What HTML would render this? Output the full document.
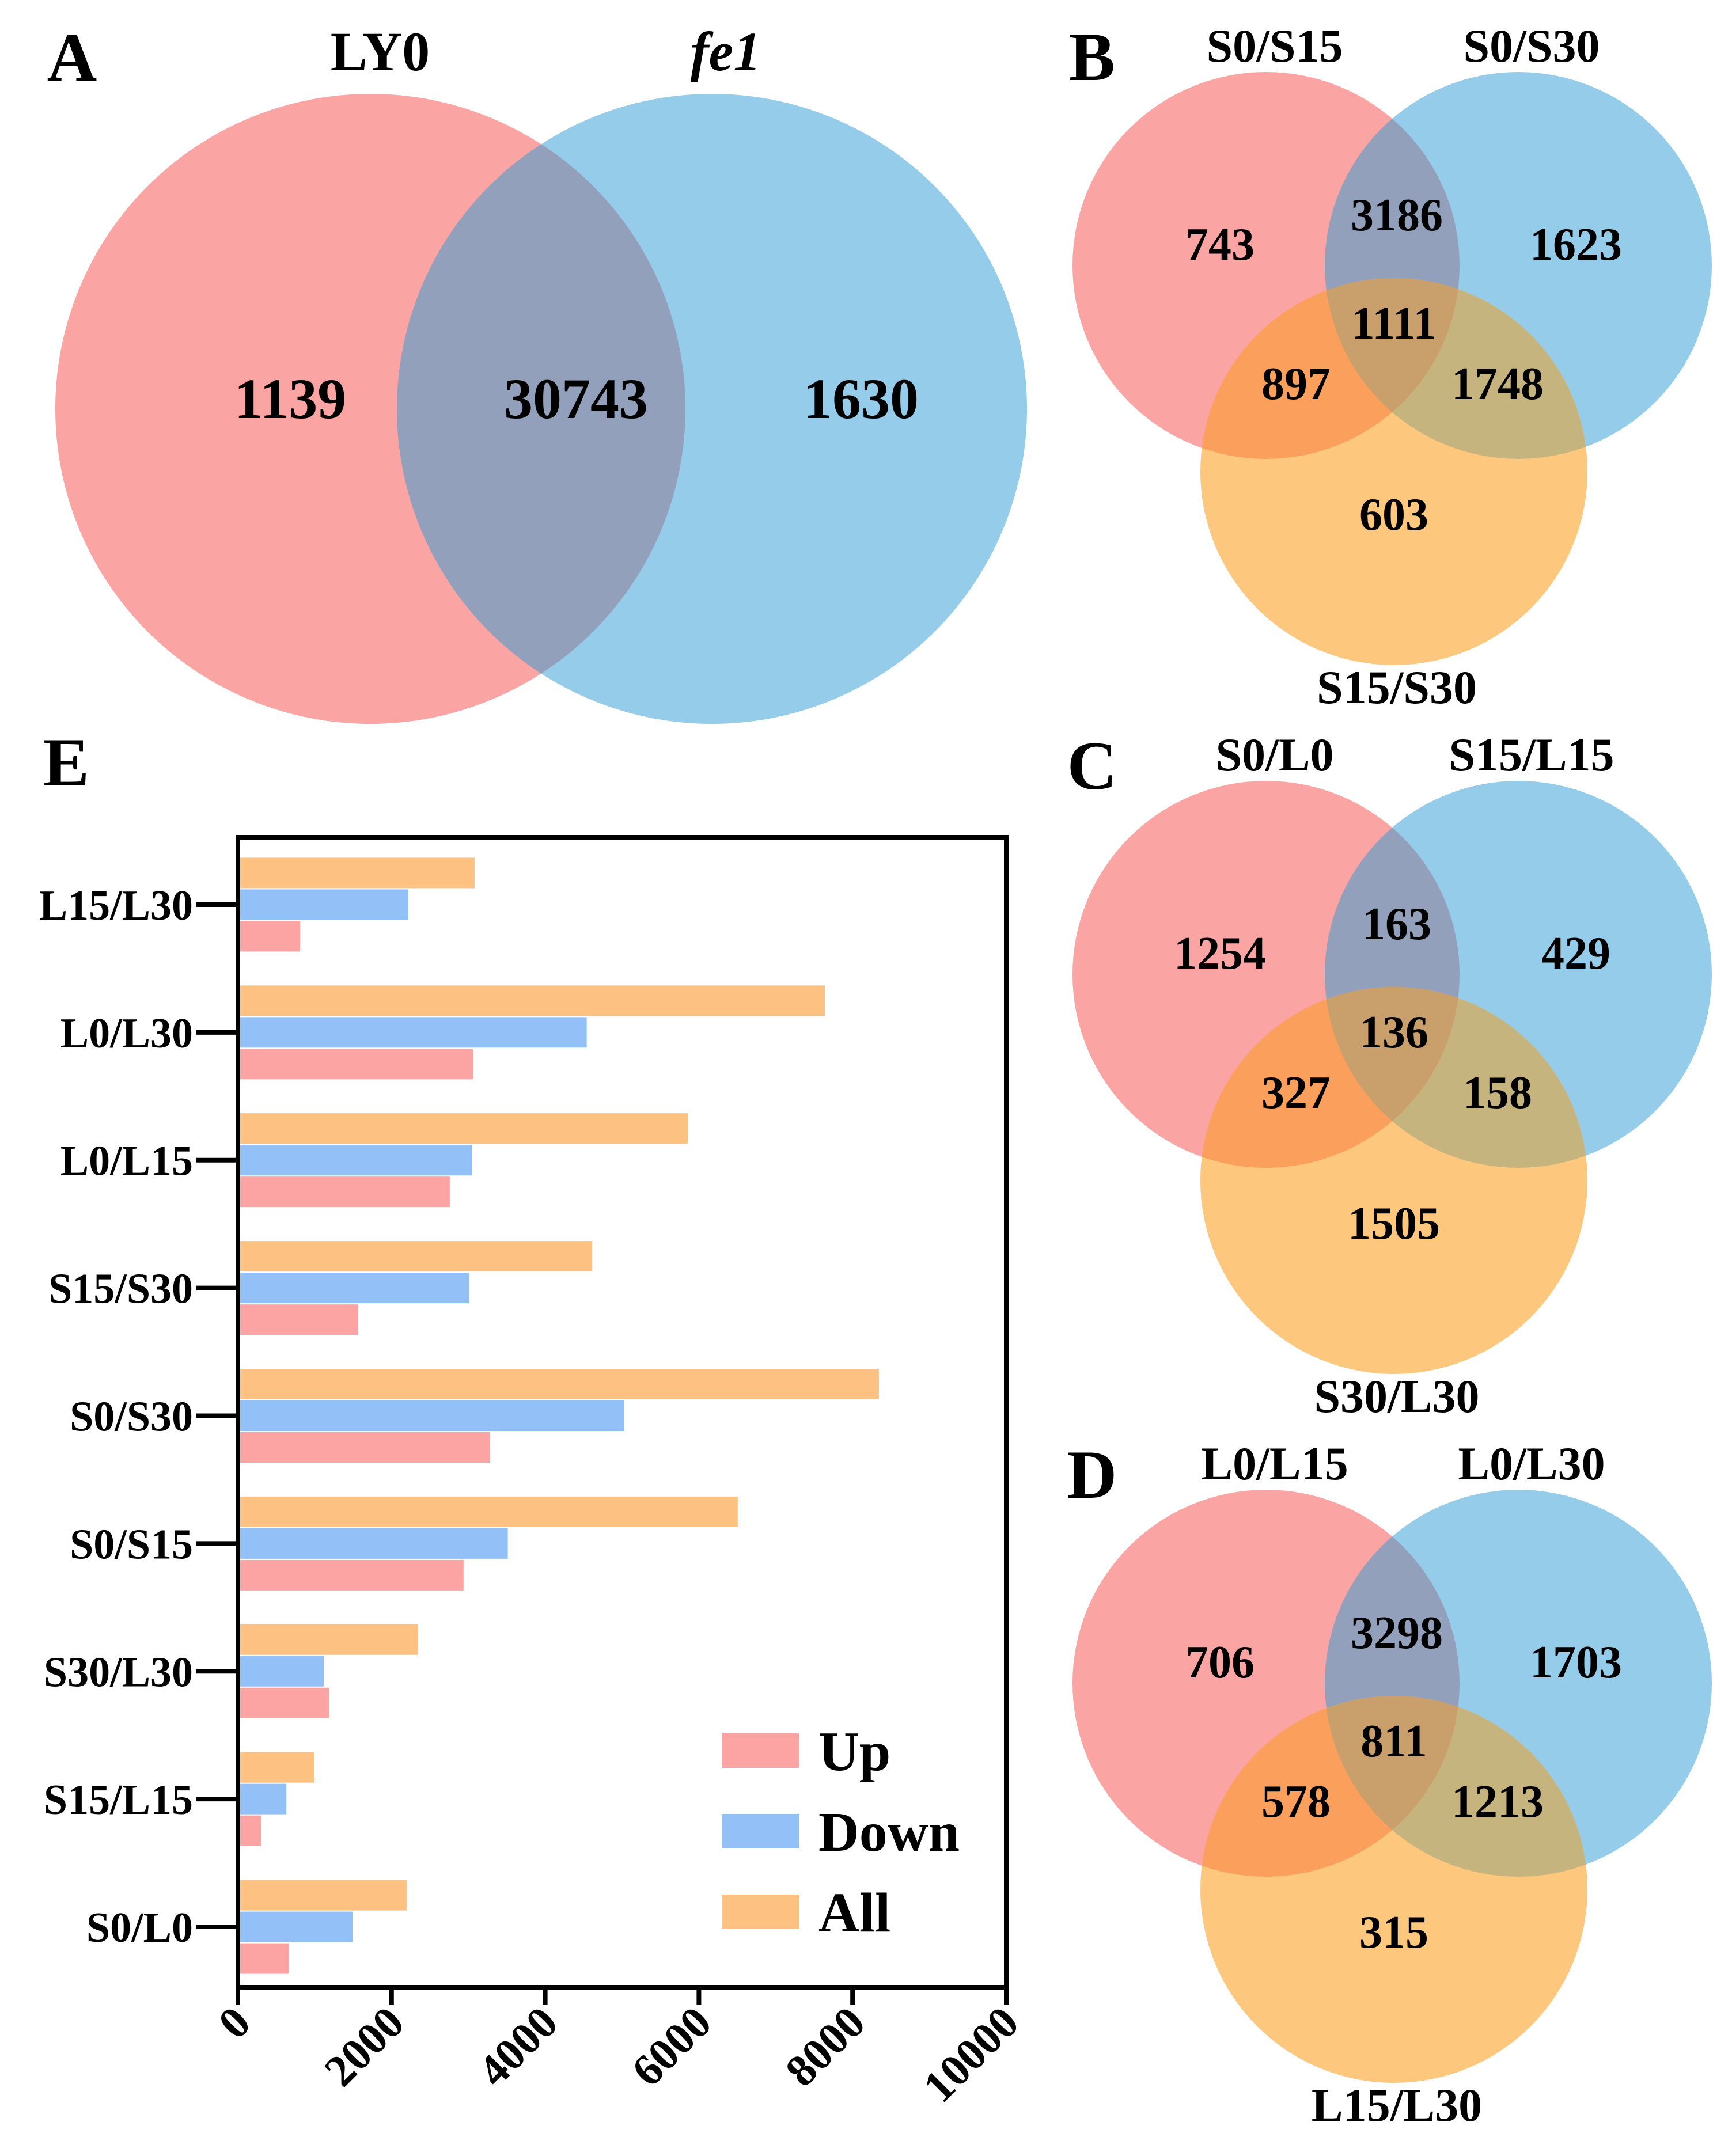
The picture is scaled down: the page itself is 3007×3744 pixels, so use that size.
<!DOCTYPE html>
<html><head><meta charset="utf-8"><style>
html,body{margin:0;padding:0;background:#fff}
svg{display:block}
text{font-family:"Liberation Serif",serif;font-weight:bold;fill:#000}
</style></head><body>
<svg id="fig" width="3007" height="3744" viewBox="0 0 3007 3744">
<defs>
<clipPath id="aR"><circle cx="643" cy="710" r="547"/></clipPath>
</defs>
<g>
<circle cx="643" cy="710" r="547" fill="#FBA4A4"/>
<circle cx="1236" cy="710" r="547" fill="#94CCEA"/>
<circle cx="1236" cy="710" r="547" fill="#93A0BB" clip-path="url(#aR)"/>
<text x="125" y="140" font-size="120" text-anchor="middle">A</text>
<text x="660" y="122" font-size="96" text-anchor="middle">LY0</text>
<text x="1260" y="122" font-size="96" text-anchor="middle" font-style="italic">fe1</text>
<text x="504" y="726" font-size="100" text-anchor="middle">1139</text>
<text x="1000" y="726" font-size="100" text-anchor="middle">30743</text>
<text x="1495" y="726" font-size="100" text-anchor="middle">1630</text>
</g>
<g id="venns"></g>
<g id="bars"></g>
</svg>
<script>
const NS='http://www.w3.org/2000/svg';
function mk(tag,attrs,parent){const e=document.createElementNS(NS,tag);for(const k in attrs)e.setAttribute(k,attrs[k]);parent.appendChild(e);return e;}
// ---- Venn panels B, C, D ----
const vennPanels=[
 {id:'b',letter:'B',cy:461,names:['S0/S15','S0/S30','S15/S30'],counts:['743','1623','603','3186','897','1748','1111']},
 {id:'c',letter:'C',cy:1692,names:['S0/L0','S15/L15','S30/L30'],counts:['1254','429','1505','163','327','158','136']},
 {id:'d',letter:'D',cy:2923,names:['L0/L15','L0/L30','L15/L30'],counts:['706','1703','315','3298','578','1213','811']}
];
const vg=document.getElementById('venns');
const defs=document.querySelector('defs');
vennPanels.forEach(p=>{
 const R=336, rx=2198, bx=2636, ox=2420, oy=p.cy+358, cy=p.cy;
 const g=mk('g',{},vg);
 
 
 const cr=mk('clipPath',{id:'r'+p.id},defs);mk('circle',{cx:rx,cy:cy,r:R},cr);
 const cb=mk('clipPath',{id:'b'+p.id},defs);mk('circle',{cx:bx,cy:cy,r:R},cb);
 const c1=mk('circle',{cx:rx,cy:cy,r:R,fill:'#FBA4A4'},g);
 
 
 const c2=mk('circle',{cx:bx,cy:cy,r:R,fill:'#94CCEA'},g);
 
 
 const c3=mk('circle',{cx:ox,cy:oy,r:R,fill:'#FDC77E'},g);
 
 
 mk('circle',{cx:bx,cy:cy,r:R,fill:'#93A0BB','clip-path':'url(#r'+p.id+')'},g);
 mk('circle',{cx:ox,cy:oy,r:R,fill:'#FB9F5C','clip-path':'url(#r'+p.id+')'},g);
 mk('circle',{cx:ox,cy:oy,r:R,fill:'#C6B47E','clip-path':'url(#b'+p.id+')'},g);
 const gi=mk('g',{'clip-path':'url(#r'+p.id+')'},g);
 mk('circle',{cx:ox,cy:oy,r:R,fill:'#C9A06C','clip-path':'url(#b'+p.id+')'},gi);
 const L=mk('text',{x:1896,y:cy-322,'font-size':120,'text-anchor':'middle'},g);L.textContent=p.letter;
 
 
 const tpos=[[rx+15,cy-354],[bx+23,cy-354],[ox+5,cy+760]];
 p.names.forEach((n,i)=>{const t=mk('text',{x:tpos[i][0],y:tpos[i][1],'font-size':82,'text-anchor':'middle'},g);t.textContent=n;
  
  });
 const npos=[[rx-80,cy-37],[bx+100,cy-37],[ox,cy+432],[ox+5,cy-88],[ox-170,cy+205],[ox+180,cy+205],[ox,cy+100]];
 p.counts.forEach((c,i)=>{const t=mk('text',{x:npos[i][0],y:npos[i][1]+27,'font-size':80,'text-anchor':'middle'},g);t.textContent=c;
  
  });
});
// ---- Bar chart E ----
const categories=['L15/L30','L0/L30','L0/L15','S15/S30','S0/S30','S0/S15','S30/L30','S15/L15','S0/L0'];
const upValues=[810,3060,2757,1567,3280,2937,1190,306,667];
const downValues=[2216,4540,3045,3009,5027,3513,1117,631,1495];
const allValues=[3080,7640,5856,4612,8342,6505,2342,991,2198];
const xTicks=[0,2000,4000,6000,8000,10000];
const seriesNames=['Up','Down','All'];
const seriesColors=['#FCA3A3','#94C0F8','#FDC182'];
const PL=413,PR=1747,PT=1454,PB=3451,XMAX=10000;
const xs=v=>PL+v/XMAX*(PR-PL);
const band=(PB-PT)/categories.length;
const yc=i=>PT+band*(i+0.5)+6;
const bg=document.getElementById('bars');
const eL=mk('text',{x:115,y:1364,'font-size':120,'text-anchor':'middle'},bg);eL.textContent='E';


const BH=55;
const series=[allValues,downValues,upValues];const sIdx=[2,1,0];
categories.forEach((c,i)=>{
 series.forEach((arr,k)=>{
  const y=yc(i)-BH*1.5+k*BH+1;
  const r=mk('rect',{x:PL,y:y,width:xs(arr[i])-PL,height:BH-2,fill:seriesColors[sIdx[k]]},bg);
  
  
 });
 const tk=mk('line',{x1:PL-72,x2:PL,y1:yc(i),y2:yc(i),stroke:'#000','stroke-width':8},bg);
 
 
 const t=mk('text',{x:PL-78,y:yc(i)+26,'font-size':74,'text-anchor':'end'},bg);t.textContent=c;
 
 
});
const frame=mk('rect',{x:PL,y:PT,width:PR-PL,height:PB-PT,fill:'none',stroke:'#000','stroke-width':8},bg);


xTicks.forEach(v=>{
 const l=mk('line',{x1:xs(v),x2:xs(v),y1:PB,y2:PB+30,stroke:'#000','stroke-width':8},bg);
 
 
 const t=mk('text',{x:xs(v)+26,y:PB+66,'font-size':78,'text-anchor':'end',transform:'rotate(-45 '+(xs(v)+26)+' '+(PB+66)+')'},bg);t.textContent=v;
 
 
});
const legY=[3010,3150,3290];
seriesNames.forEach((n,i)=>{
 const r=mk('rect',{x:1253,y:legY[i],width:134,height:60,fill:seriesColors[i]},bg);
 
 
 const t=mk('text',{x:1421,y:legY[i]+64,'font-size':98},bg);t.textContent=n;
 
 
});
</script>
</body></html>
